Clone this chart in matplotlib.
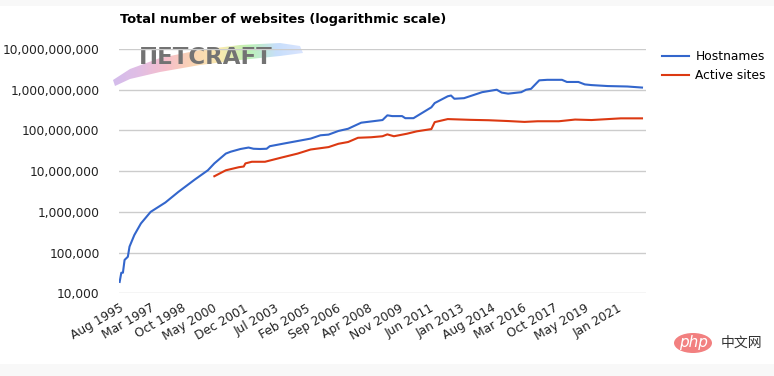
import matplotlib
matplotlib.use("Agg")
import matplotlib.pyplot as plt
import numpy as np
import pandas as pd
from matplotlib.patches import Ellipse, Polygon, Rectangle

# data (values in sites)
host_dates = ["1995-08", "1995-09", "1995-10", "1995-11", "1996-01", "1996-02", "1996-05",
              "1996-09", "1997-03", "1997-12", "1998-08", "1999-06", "2000-02", "2000-06",
              "2001-01", "2001-04", "2001-10", "2002-03", "2002-06", "2002-10", "2003-02",
              "2003-04", "2004-01", "2004-09", "2005-05", "2005-11", "2006-04", "2006-10",
              "2007-04", "2007-06", "2007-12", "2009-01", "2009-04", "2009-07", "2010-01",
              "2010-03", "2010-08", "2011-07", "2011-09", "2012-05", "2012-07", "2012-09",
              "2013-03", "2014-02", "2014-11", "2015-02", "2015-06", "2016-02", "2016-05",
              "2016-08", "2017-01", "2017-06", "2018-03", "2018-06", "2019-01", "2019-05",
              "2019-09", "2020-07", "2021-07", "2022-04"]
host_vals = [19e3, 32e3, 32e3, 66e3, 79e3, 140e3, 270e3,
             520e3, 1.0e6, 1.7e6, 3.1e6, 6.2e6, 10.5e6, 15.5e6,
             27e6, 30e6, 35e6, 38e6, 35.5e6, 35e6, 35.5e6,
             41e6, 48e6, 55e6, 63e6, 76e6, 79e6, 97e6,
             110e6, 120e6, 155e6, 180e6, 235e6, 225e6, 225e6,
             200e6, 200e6, 370e6, 470e6, 690e6, 720e6, 600e6,
             620e6, 870e6, 1.0e9, 850e6, 800e6, 870e6, 1.0e9,
             1.05e9, 1.7e9, 1.75e9, 1.75e9, 1.55e9, 1.55e9, 1.35e9,
             1.3e9, 1.23e9, 1.2e9, 1.13e9]

active_dates = ["2000-06", "2001-01", "2001-09", "2001-12", "2002-01", "2002-05", "2003-01",
                "2003-11", "2004-09", "2005-05", "2006-04", "2006-10", "2007-04", "2007-10",
                "2008-06", "2009-01", "2009-04", "2009-08", "2010-04", "2010-10", "2011-07",
                "2011-09", "2012-05", "2013-07", "2014-06", "2015-06", "2016-04", "2016-12",
                "2018-01", "2018-11", "2019-09", "2021-03", "2022-04"]
active_vals = [7.5e6, 10.5e6, 12.5e6, 13e6, 15.5e6, 17e6, 17e6,
               21.5e6, 27e6, 34e6, 39e6, 47e6, 52e6, 66e6,
               68e6, 72e6, 80e6, 72e6, 83e6, 95e6, 108e6,
               160e6, 190e6, 182e6, 178e6, 170e6, 162e6, 168e6,
               168e6, 185e6, 180e6, 198e6, 198e6]

tick_labels = ["Aug 1995", "Mar 1997", "Oct 1998", "May 2000", "Dec 2001", "Jul 2003",
               "Feb 2005", "Sep 2006", "Apr 2008", "Nov 2009", "Jun 2011", "Jan 2013",
               "Aug 2014", "Mar 2016", "Oct 2017", "May 2019", "Jan 2021"]
y_ticks = [1e4, 1e5, 1e6, 1e7, 1e8, 1e9, 1e10]

blue = "#3366cc"
red = "#dc3912"

fig = plt.figure(figsize=(7.74, 3.76), dpi=100)
fig.patch.set_facecolor("white")
# gray bands at the very top and bottom of the screenshot
fig.add_artist(Rectangle((0, 0), 1, 12 / 376, transform=fig.transFigure,
                         facecolor="#f8f8f8", edgecolor="none"))
fig.add_artist(Rectangle((0, 1 - 6 / 376), 1, 6 / 376, transform=fig.transFigure,
                         facecolor="#f8f8f8", edgecolor="none"))

# Netcraft logo approximation: rainbow swoosh + gray text (pixel coords)
lax = fig.add_axes([110 / 774, 1 - 88 / 376, 195 / 774, 48 / 376])
lax.set_xlim(110, 305)
lax.set_ylim(88, 40)
lax.axis("off")
grad = np.linspace(0, 1, 256).reshape(1, -1)
cols = matplotlib.colors.LinearSegmentedColormap.from_list(
    "nc", ["#c4a6e6", "#d8a8dc", "#f4aab8", "#f8c898", "#f6e494", "#a6ee9c", "#b4d4fa", "#cfdcff"])
img = lax.imshow(grad, cmap=cols, extent=[112, 304, 88, 40], aspect="auto", alpha=0.75)
swoosh = Polygon([(113, 80), (130, 69), (160, 58), (200, 50), (240, 45), (280, 43),
                  (300, 46), (303, 53), (280, 56), (240, 60), (200, 65), (160, 72),
                  (130, 79), (115, 86)],
                 closed=True, transform=lax.transData, facecolor="none", edgecolor="none")
lax.add_patch(swoosh)
img.set_clip_path(swoosh)
lax.text(139, 58, "ПETCRAFT", fontsize=16.5, fontweight="bold", color="#737373",
         va="center", ha="left", family="DejaVu Sans")

ax = fig.add_axes([119 / 774, 1 - 293.3 / 376, (646 - 119) / 774, (293.3 - 49) / 376])
ax.set_facecolor("none")

ax.plot(pd.to_datetime(host_dates), host_vals, color=blue, lw=1.5, label="Hostnames", zorder=3)
ax.plot(pd.to_datetime(active_dates), active_vals, color=red, lw=1.5, label="Active sites", zorder=3)

ax.set_yscale("log")
ax.set_ylim(1e4, 1e10)
ax.set_yticks(y_ticks)
ax.set_yticklabels([f"{int(v):,}" for v in y_ticks])
ax.yaxis.set_minor_locator(matplotlib.ticker.NullLocator())

ax.set_xticks(pd.to_datetime(tick_labels, format="%b %Y"))
ax.set_xticklabels(tick_labels, rotation=30, ha="right", rotation_mode="anchor")
ax.set_xlim(pd.Timestamp("1995-07-20"), pd.Timestamp("2022-06-15"))

ax.grid(axis="y", color="#cccccc", lw=1)
ax.set_axisbelow(True)
for s in ax.spines.values():
    s.set_visible(False)
ax.tick_params(axis="both", length=0, labelsize=8.8, colors="#222222")
ax.tick_params(axis="y", pad=14)
ax.tick_params(axis="x", pad=6)

fig.text(120 / 774, 1 - 20 / 376, "Total number of websites (logarithmic scale)",
         fontsize=9.4, fontweight="bold", va="center", ha="left")

ax.legend(loc="upper left", bbox_to_anchor=(1.01, 1.04), frameon=False,
          fontsize=8.8, handlelength=2.2, handletextpad=0.5, labelspacing=0.5)

# watermark
fig.add_artist(Ellipse((693 / 774, 1 - 343 / 376), 38 / 774, 20 / 376,
                       transform=fig.transFigure, facecolor="#f28080", edgecolor="none"))
fig.text(693 / 774, 1 - 343 / 376, "php", color="white", fontsize=11, style="italic",
         ha="center", va="center")
fig.text(721 / 774, 1 - 343 / 376, "中文网", color="#333333", fontsize=10,
         family=["Noto Sans CJK SC", "DejaVu Sans"], ha="left", va="center")

fig.savefig("out.png", dpi=100)
